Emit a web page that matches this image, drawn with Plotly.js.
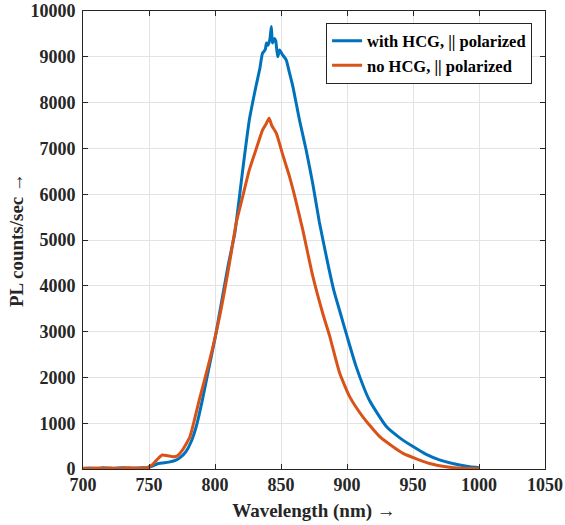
<!DOCTYPE html>
<html>
<head>
<meta charset="utf-8">
<script src="https://cdn.plot.ly/plotly-3.0.1.min.js"></script>
<style>html,body{margin:0;padding:0;background:#fff;}#chart{width:565px;height:525px;}</style>
</head>
<body>
<div id="chart"></div>
<script>
// with HCG, || polarized
var blueX = [700,705,710,715,720,725,730,735,740,745,748,752,756,760,765,770,774,778,782,786,790,795,800,805,810,815,817,821,826,831,834,836,838,839,840,841.5,842.7,843.5,845,846,847.5,849,851,854,856,859,864,869,874,879,885,890,895,900,907,917,930,940,950,960,970,980,993,1000];
var blueY = [10,20,10,25,15,20,25,15,20,30,25,60,110,130,150,190,260,380,600,950,1450,2150,2850,3650,4450,5150,5590,6530,7620,8350,8750,9080,9150,9300,9250,9370,9660,9300,9400,9350,9000,9150,9050,8930,8700,8350,7620,6970,6240,5400,4550,3900,3400,2900,2230,1500,920,680,490,320,200,120,50,30];
// no HCG, || polarized
var orangeX = [700,705,710,715,720,725,730,735,740,745,748,752,756,760,764,768,771,775,781,788,796,803.5,811,816,821,826,831,836,839,841,843,846.5,851,856.5,860,866.5,870,874,881.6,887,889,894.5,902,912,925,942.5,962.6,975,988,1000];
var orangeY = [15,10,20,15,20,10,20,25,15,20,25,80,200,305,290,270,280,400,705,1500,2380,3330,4500,5360,5950,6530,6970,7400,7550,7660,7500,7330,6890,6380,6000,5220,4750,4220,3400,2890,2670,2090,1580,1140,700,340,120,50,15,10];

var xTicks = [700,750,800,850,900,950,1000,1050];
var yTicks = [0,1000,2000,3000,4000,5000,6000,7000,8000,9000,10000];

var traces = [
  {x: blueX, y: blueY, type: 'scatter', mode: 'lines', name: 'with HCG, || polarized',
   line: {color: '#0072BD', width: 3, shape: 'spline', smoothing: 0.5}},
  {x: orangeX, y: orangeY, type: 'scatter', mode: 'lines', name: 'no HCG, || polarized',
   line: {color: '#D95319', width: 3, shape: 'spline', smoothing: 0.5}}
];

var serif = 'Liberation Serif, Times New Roman, serif';
var tickFont = {family: serif, size: 18, color: '#262626', weight: 'bold'};
var layout = {
  width: 565, height: 525,
  margin: {l: 83, r: 20, t: 11, b: 56},
  paper_bgcolor: '#ffffff', plot_bgcolor: '#ffffff',
  showlegend: true,
  legend: {x: 0.972, y: 0.908, xanchor: 'right', yanchor: 'middle',
    bgcolor: '#ffffff', bordercolor: '#262626', borderwidth: 1,
    font: {family: serif, size: 16.5, color: '#000', weight: 'bold'},
    tracegroupgap: 0},
  xaxis: {range: [700, 1050], tickvals: xTicks, ticktext: xTicks.map(String),
    showgrid: true, gridcolor: '#e3e3e3', zeroline: false,
    showline: true, linecolor: '#262626', linewidth: 1, mirror: 'ticks',
    ticks: 'inside', ticklen: 5, tickcolor: '#262626',
    ticklabelstandoff: -1,
    tickfont: tickFont,
    title: {text: 'Wavelength (nm) →', font: {family: serif, size: 19, color: '#262626', weight: 'bold'}, standoff: 10}},
  yaxis: {range: [0, 10000], tickvals: yTicks, ticktext: yTicks.map(String),
    showgrid: true, gridcolor: '#e3e3e3', zeroline: false,
    showline: true, linecolor: '#262626', linewidth: 1, mirror: 'ticks',
    ticks: 'inside', ticklen: 5, tickcolor: '#262626',
    ticklabelstandoff: 3,
    tickfont: tickFont,
    title: {text: 'PL counts/sec →', font: {family: serif, size: 19, color: '#262626', weight: 'bold'}, standoff: 1}}
};
Plotly.newPlot('chart', traces, layout, {displayModeBar: false, staticPlot: true});
</script>
</body>
</html>
